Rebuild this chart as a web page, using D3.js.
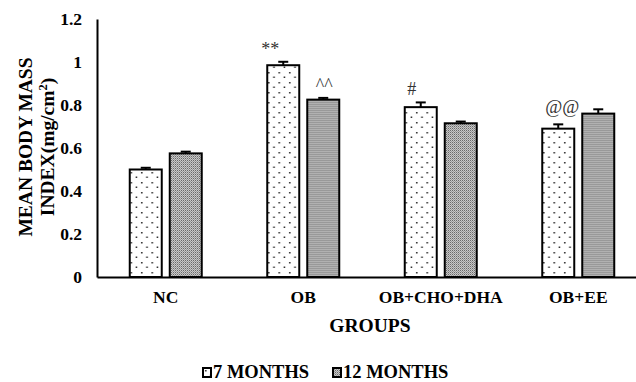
<!DOCTYPE html>
<html>
<head>
<meta charset="utf-8">
<script src="https://cdn.jsdelivr.net/npm/d3@7"></script>
<style>
  body { margin: 0; background: #fff; }
  svg text { font-family: "Liberation Serif", "DejaVu Serif", serif; }
</style>
</head>
<body>
<div class="chart"></div>
<script>
// data
const groups = ["NC", "OB", "OB+CHO+DHA", "OB+EE"]
const series = ["7 MONTHS", "12 MONTHS"]
const months7 = [0.50, 0.985, 0.79, 0.69]
const months12 = [0.575, 0.825, 0.715, 0.76]
const err7 = [0.008, 0.016, 0.022, 0.02]
const err12 = [0.008, 0.008, 0.008, 0.02]
const marks7 = ["", "**", "#", "@@"]
const marks12 = ["", "^^", "", ""]
const yTicks = [0, 0.2, 0.4, 0.6, 0.8, 1, 1.2]

const rows = groups.map((g, i) => ({
    group: g,
    bars: [
        { key: series[0], value: months7[i], err: err7[i], mark: marks7[i] },
        { key: series[1], value: months12[i], err: err12[i], mark: marks12[i] }
    ]
}))

const width = 636
const height = 382
const margin = ({ top: 19, right: -11, bottom: 105, left: 97 })
const serif = "'Liberation Serif', 'DejaVu Serif', serif"

// label nudges (like hand-placed labels in the original)
const nudge = { "**": -13, "^^": 1, "#": -9, "@@": 4 }

const svg = d3.select(".chart")
    .append("svg")
    .attr("width", width)
    .attr("height", height)
    .attr("font-family", serif)

// patterns
const defs = svg.append("defs")
const dots = defs.append("pattern")
    .attr("id", "dots")
    .attr("patternUnits", "userSpaceOnUse")
    .attr("width", 10.5).attr("height", 10)
dots.append("rect").attr("width", 10.5).attr("height", 10).attr("fill", "#fff")
dots.append("rect").attr("x", 2).attr("y", 2).attr("width", 1.5).attr("height", 1.5).attr("fill", "#222")
dots.append("rect").attr("x", 7.25).attr("y", 6.5).attr("width", 1.5).attr("height", 1.5).attr("fill", "#222")

const grey = defs.append("pattern")
    .attr("id", "grey")
    .attr("patternUnits", "userSpaceOnUse")
    .attr("width", 2).attr("height", 2)
grey.append("rect").attr("width", 2).attr("height", 2).attr("fill", "#c8c8c8")
grey.append("rect").attr("width", 1).attr("height", 1).attr("fill", "#6a6a6a")
grey.append("rect").attr("x", 1).attr("y", 1).attr("width", 1).attr("height", 1).attr("fill", "#999")

const fills = { "7 MONTHS": "url(#dots)", "12 MONTHS": "url(#grey)" }

// scales
const xScale = d3.scaleBand()
    .domain(groups)
    .range([margin.left, width - margin.right])

const xInner = d3.scaleBand()
    .domain(series)
    .range([xScale.bandwidth() / 2 - 36, xScale.bandwidth() / 2 + 36])
    .paddingInner(0.2)

const yScale = d3.scaleLinear()
    .domain([0, 1.2])
    .range([height - margin.bottom, margin.top])

// bars
const g = svg.selectAll("g.group")
    .data(rows)
    .join("g")
    .attr("class", "group")
    .attr("transform", d => "translate(" + xScale(d.group) + ",0)")

const bar = g.selectAll("g.bar")
    .data(d => d.bars)
    .join("g")
    .attr("class", "bar")

bar.append("rect")
    .attr("x", d => xInner(d.key))
    .attr("y", d => yScale(d.value))
    .attr("width", xInner.bandwidth())
    .attr("height", d => yScale(0) - yScale(d.value))
    .attr("fill", d => fills[d.key])
    .attr("stroke", "#000")
    .attr("stroke-width", 2)

// error bars
bar.append("line")
    .attr("x1", d => xInner(d.key) + xInner.bandwidth() / 2)
    .attr("x2", d => xInner(d.key) + xInner.bandwidth() / 2)
    .attr("y1", d => yScale(d.value))
    .attr("y2", d => yScale(d.value + d.err))
    .attr("stroke", "#000")
    .attr("stroke-width", 2)
bar.append("line")
    .attr("x1", d => xInner(d.key) + xInner.bandwidth() / 2 - 5)
    .attr("x2", d => xInner(d.key) + xInner.bandwidth() / 2 + 5)
    .attr("y1", d => yScale(d.value + d.err))
    .attr("y2", d => yScale(d.value + d.err))
    .attr("stroke", "#000")
    .attr("stroke-width", 2)

// significance marks
bar.filter(d => d.mark).append("text")
    .attr("x", d => xInner(d.key) + xInner.bandwidth() / 2 + nudge[d.mark])
    .attr("y", d => yScale(d.value + d.err) - (d.mark == "@@" ? 11 : 7))
    .attr("text-anchor", "middle")
    .attr("fill", "#333")
    .attr("font-size", d => d.mark == "@@" ? 18.5 : 18)
    .text(d => d.mark)

// y axis
const yAxis = svg.append("g")
    .attr("transform", "translate(" + margin.left + ",0)")
    .call(d3.axisLeft(yScale).tickValues(yTicks).tickSize(0).tickPadding(15).tickFormat(d3.format("")))
yAxis.attr("font-family", serif).attr("font-size", 17.5).attr("font-weight", "bold")
yAxis.select(".domain").attr("stroke", "#000").attr("stroke-width", 2)
yAxis.selectAll("text").attr("fill", "#000")

// x axis
const xAxis = svg.append("g")
    .attr("transform", "translate(0," + yScale(0) + ")")
    .call(d3.axisBottom(xScale).tickSize(0).tickPadding(14))
xAxis.attr("font-family", serif).attr("font-size", 17.5).attr("font-weight", "bold")
xAxis.select(".domain").attr("stroke", "#000").attr("stroke-width", 2)
xAxis.selectAll("text").attr("fill", "#000")

// axis titles
svg.append("text")
    .attr("x", 370)
    .attr("y", 332)
    .attr("text-anchor", "middle")
    .attr("font-size", 19.5)
    .attr("font-weight", "bold")
    .text("GROUPS")

const yTitle = svg.append("text")
    .attr("transform", "translate(31.5,147) rotate(-90)")
    .attr("text-anchor", "middle")
    .attr("font-size", 19.5)
    .attr("font-weight", "bold")
yTitle.append("tspan").attr("x", 0).attr("dy", 0).text("MEAN BODY MASS")
const line2 = yTitle.append("tspan").attr("x", 0).attr("dy", 22).text("INDEX(mg/cm")
line2.append("tspan").attr("dy", -7).attr("font-size", 12.5).text("2")
line2.append("tspan").attr("dy", 7).text(")")

// legend
const legend = svg.selectAll("g.legend")
    .data(series)
    .join("g")
    .attr("class", "legend")
    .attr("transform", (d, i) => "translate(" + (203 + i * 130) + ",368)")
legend.append("rect")
    .attr("width", 8).attr("height", 9)
    .attr("fill", d => fills[d])
    .attr("stroke", "#000")
    .attr("stroke-width", 2)
legend.append("text")
    .attr("x", 10)
    .attr("y", 10)
    .attr("font-size", 18.5)
    .attr("font-weight", "bold")
    .text(d => d)
</script>
</body>
</html>
